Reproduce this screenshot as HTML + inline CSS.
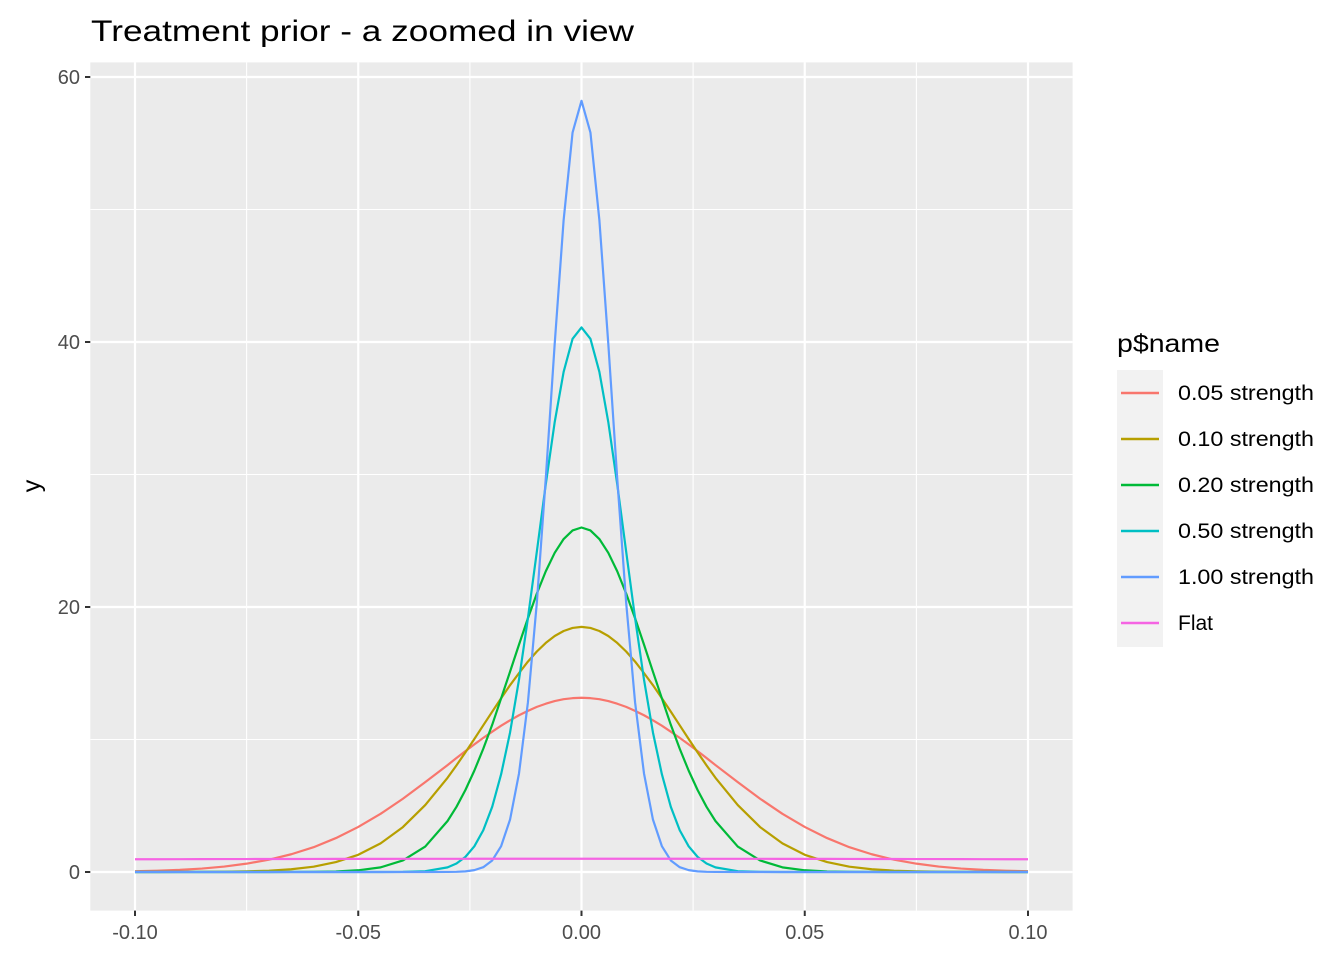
<!DOCTYPE html>
<html><head><meta charset="utf-8"><style>
body{margin:0;background:#fff;}
svg{display:block;font-family:"Liberation Sans",Arial,sans-serif;}
</style></head><body>
<svg id="chart" width="1344" height="960" viewBox="0 0 1344 960" xmlns="http://www.w3.org/2000/svg">
<text x="91" y="41" font-size="30" fill="#000" textLength="543" lengthAdjust="spacingAndGlyphs">Treatment prior - a zoomed in view</text>
<rect x="90.3" y="62.4" width="982.3" height="848.2" fill="#ebebeb"/>
<g id="grid"></g>
<g id="series"></g>
<g id="axes"></g>
<text transform="translate(40,486) rotate(-90)" text-anchor="middle" font-size="25" fill="#000">y</text>
<g id="legend">
<text x="1117" y="352" font-size="25" fill="#000" textLength="103" lengthAdjust="spacingAndGlyphs">p$name</text>
<rect x="1117" y="370" width="46" height="277" fill="#f2f2f2"/>
</g>
</svg>
<script>
const xs=[-0.100,-0.095,-0.090,-0.085,-0.080,-0.075,-0.070,-0.065,-0.060,-0.055,-0.050,-0.045,-0.040,-0.035,
-0.030,-0.028,-0.026,-0.024,-0.022,-0.020,-0.018,-0.016,-0.014,-0.012,-0.010,-0.008,-0.006,-0.004,-0.002,0,
0.002,0.004,0.006,0.008,0.010,0.012,0.014,0.016,0.018,0.020,0.022,0.024,0.026,0.028,0.030,
0.035,0.040,0.045,0.050,0.055,0.060,0.065,0.070,0.075,0.080,0.085,0.090,0.095,0.100];
const s005=[0.06,0.10,0.16,0.26,0.41,0.63,0.93,1.34,1.87,2.56,3.40,4.39,5.53,6.78,
8.07,8.60,9.12,9.63,10.12,10.59,11.04,11.45,11.83,12.16,12.46,12.70,12.90,13.04,13.12,13.15,
13.12,13.04,12.90,12.70,12.46,12.16,11.83,11.45,11.04,10.59,10.12,9.63,9.12,8.60,8.07,
6.78,5.53,4.39,3.40,2.56,1.87,1.34,0.93,0.63,0.41,0.26,0.16,0.10,0.06];
const s010=[0.0005,0.001,0.003,0.009,0.021,0.047,0.10,0.21,0.40,0.75,1.30,2.16,3.39,5.05,
7.11,8.05,9.03,10.04,11.07,12.10,13.11,14.10,15.01,15.88,16.64,17.29,17.81,18.19,18.42,18.5,
18.42,18.19,17.81,17.29,16.64,15.88,15.01,14.10,13.11,12.10,11.07,10.04,9.03,8.05,7.11,
5.05,3.39,2.16,1.30,0.75,0.40,0.21,0.10,0.047,0.021,0.009,0.003,0.001,0.0005];
const s020=[0,0,0,0,0,0.0002,0.0007,0.003,0.013,0.042,0.13,0.35,0.87,1.92,
3.85,4.92,6.19,7.65,9.30,11.11,13.11,15.12,17.16,19.15,21.02,22.70,24.09,25.13,25.78,26.0,
25.78,25.13,24.09,22.70,21.02,19.15,17.16,15.12,13.11,11.11,9.30,7.65,6.19,4.92,3.85,
1.92,0.87,0.35,0.13,0.042,0.013,0.003,0.0007,0.0002,0,0,0,0,0];
const s050=[0,0,0,0,0,0,0,0,0,0,0,0,0.008,0.062,
0.35,0.64,1.14,1.94,3.15,4.92,7.38,10.53,14.51,19.16,24.19,29.27,33.96,37.75,40.24,41.1,
40.24,37.75,33.96,29.27,24.19,19.16,14.51,10.53,7.38,4.92,3.15,1.94,1.14,0.64,0.35,
0.062,0.008,0,0,0,0,0,0,0,0,0,0,0,0];
const s100=[0,0,0,0,0,0,0,0,0,0,0,0,0,0,
0.005,0.015,0.048,0.14,0.36,0.87,1.95,3.96,7.43,12.80,20.34,29.71,39.87,49.21,55.81,58.2,
55.81,49.21,39.87,29.71,20.34,12.80,7.43,3.96,1.95,0.87,0.36,0.14,0.048,0.015,0.005,
0,0,0,0,0,0,0,0,0,0,0,0,0,0];
const sFlat=[0.961,0.964,0.968,0.971,0.975,0.978,0.980,0.983,0.986,0.988,0.990,0.992,0.994,0.995,
0.996,0.997,0.997,0.998,0.998,0.998,0.999,0.999,0.999,0.999,1.0,1.0,1.0,1.0,1.0,1.0,
1.0,1.0,1.0,1.0,1.0,0.999,0.999,0.999,0.999,0.998,0.998,0.998,0.997,0.997,0.996,
0.995,0.994,0.992,0.990,0.988,0.986,0.983,0.980,0.978,0.975,0.971,0.968,0.964,0.961];
const seriesNames=["0.05 strength","0.10 strength","0.20 strength","0.50 strength","1.00 strength","Flat"];
const seriesValues=[s005,s010,s020,s050,s100,sFlat];
const seriesColors=["#F8766D","#B79F00","#00BA38","#00BFC4","#619CFF","#F564E3"];
const xTicks=[-0.10,-0.05,0.00,0.05,0.10];
const xTickLabels=["-0.10","-0.05","0.00","0.05","0.10"];
const xMinor=[-0.075,-0.025,0.025,0.075];
const yTicks=[0,20,40,60];
const yTickLabels=["0","20","40","60"];
const yMinor=[10,30,50];

const NS="http://www.w3.org/2000/svg";
const xScale=v=>581.5+v*4465;
const yScale=v=>872-v*13.25;
function mk(tag,attrs,parent){const e=document.createElementNS(NS,tag);for(const k in attrs)e.setAttribute(k,attrs[k]);parent.appendChild(e);return e;}
const grid=document.getElementById('grid'),axes=document.getElementById('axes'),ser=document.getElementById('series'),leg=document.getElementById('legend');
const L=90.3,R=1072.6,T=62.4,B=910.6;
yMinor.forEach(v=>{const l=mk('line',{x1:L,x2:R,y1:yScale(v),y2:yScale(v),stroke:'#fff','stroke-width':1.1},grid);

});
xMinor.forEach(v=>{const l=mk('line',{x1:xScale(v),x2:xScale(v),y1:T,y2:B,stroke:'#fff','stroke-width':1.1},grid);

});
yTicks.forEach((v,i)=>{const y=yScale(v);
const g=mk('line',{x1:L,x2:R,y1:y,y2:y,stroke:'#fff','stroke-width':2.2},grid);


const t=mk('line',{x1:85,x2:90.3,y1:y,y2:y,stroke:'#333','stroke-width':2},axes);


const tx=mk('text',{x:80,y:y+7,'text-anchor':'end','font-size':20,fill:'#4d4d4d'},axes);tx.textContent=yTickLabels[i];

});
xTicks.forEach((v,i)=>{const x=xScale(v);
const g=mk('line',{x1:x,x2:x,y1:T,y2:B,stroke:'#fff','stroke-width':2.2},grid);


const t=mk('line',{x1:x,x2:x,y1:910.6,y2:916,stroke:'#333','stroke-width':2},axes);


const tx=mk('text',{x:x,y:939,'text-anchor':'middle','font-size':20,fill:'#4d4d4d'},axes);tx.textContent=xTickLabels[i];

});
seriesValues.forEach((vals,si)=>{
const pts=xs.map((x,i)=>xScale(x).toFixed(2)+','+yScale(vals[i]).toFixed(2)).join(' ');
const p=mk('polyline',{points:pts,fill:'none',stroke:seriesColors[si],'stroke-width':2.2,'stroke-linejoin':'round'},ser);


const ky=393+si*46;
const kl=mk('line',{x1:1121,x2:1159,y1:ky,y2:ky,stroke:seriesColors[si],'stroke-width':2.4},leg);


const attrs={x:1178,y:ky+7,'font-size':21,fill:'#000'};
if(seriesNames[si].length>5){attrs.textLength=136;attrs.lengthAdjust='spacingAndGlyphs';}
const lt=mk('text',attrs,leg);lt.textContent=seriesNames[si];


});
</script>
</body></html>
